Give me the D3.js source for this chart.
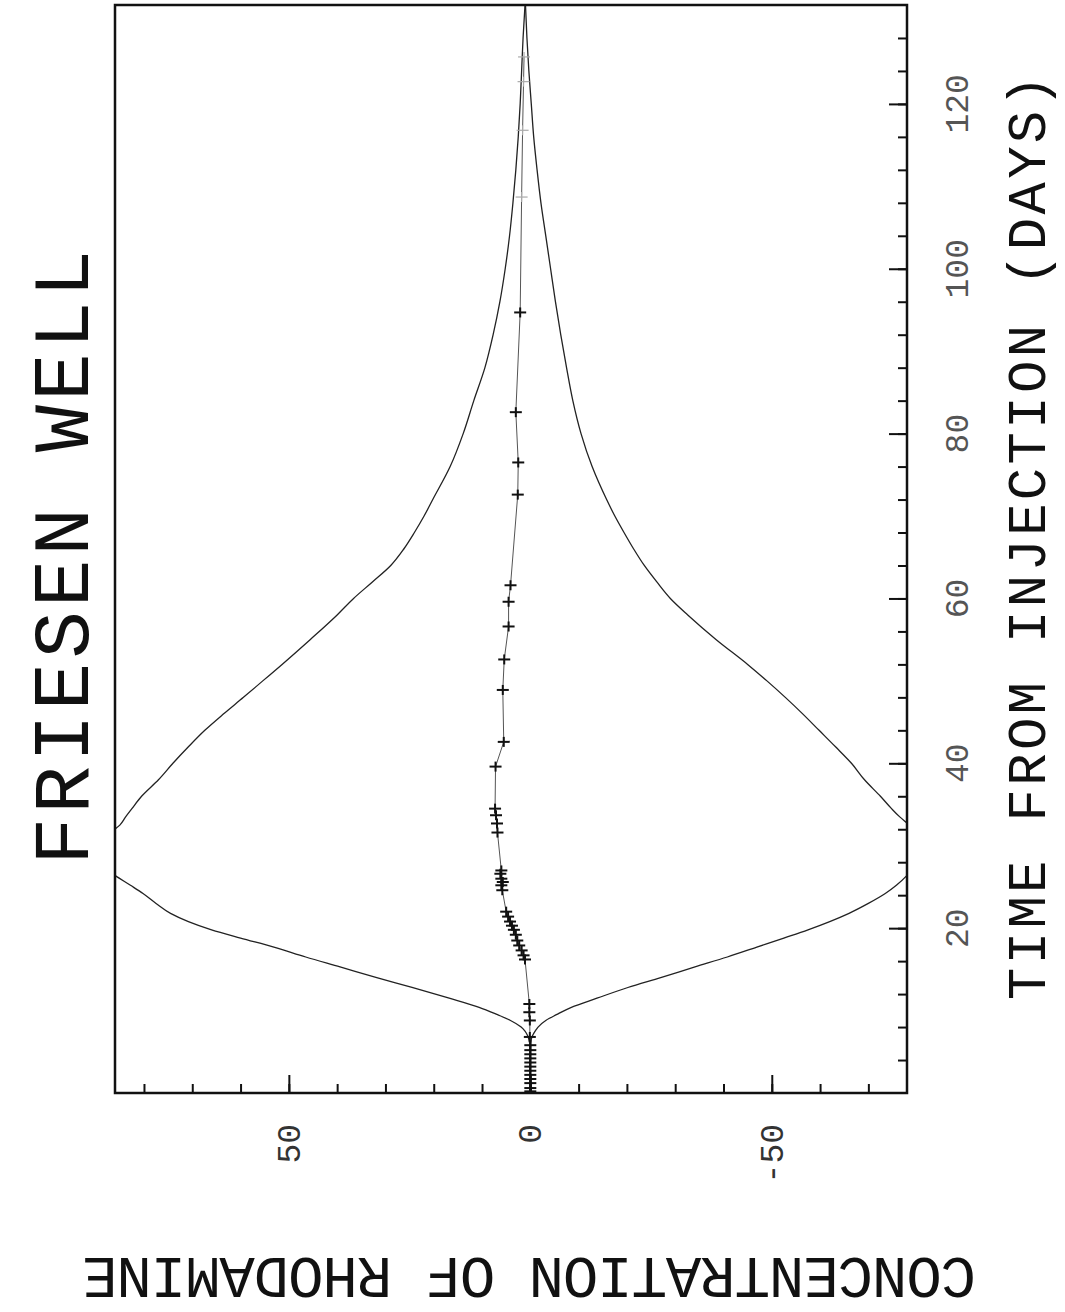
<!DOCTYPE html>
<html>
<head>
<meta charset="utf-8">
<script src="https://cdn.jsdelivr.net/npm/d3@7"></script>
<style>
  html, body { margin: 0; padding: 0; background: #fff; }
  svg { display: block; }
  text { font-family: "Liberation Mono", "DejaVu Sans Mono", monospace; fill: #111; }
</style>
</head>
<body>
<svg id="chart" width="1065" height="1312"></svg>
<script>
// ---- Time grid (days) for the model envelope curves ----
const envT = [0, 2, 4, 5.5, 6.5, 7, 7.5, 8, 8.8, 9.5, 10.4, 11.5, 12.8, 14, 15.3, 16.5,
  17.7, 18.8, 19.8, 20.8, 21.8, 23, 24.2, 25.2, 26.4, 27.5, 28.5, 29.5, 30.5, 31.5,
  32.5, 33.5, 34.5, 36, 38, 40, 42, 44, 46, 48, 50, 52, 55, 58, 60, 62, 64, 66, 68,
  70, 72, 76, 80, 84, 88, 92, 96, 100, 104, 108, 112, 116, 120, 124, 128, 132];

// Upper envelope (positive concentration)
const envUpper = [0, 0, 0, 0.05, 0.3, 0.6, 1.1, 1.9, 4.1, 6.8, 10.6, 16.8, 24.5, 31.8,
  39.4, 46.5, 53.1, 60, 66, 70.8, 74.5, 77.5, 80.2, 82.8, 86, 88.5, 90, 90.5, 89.5,
  87.2, 85, 83.8, 82.5, 80.5, 77, 74, 70.8, 67.4, 63.5, 59.4, 55.4, 51.4, 45.6, 40,
  36.6, 32.7, 28.9, 26.2, 24, 22, 20.2, 16.6, 13.9, 11.7, 9.4, 7.7, 6.3, 5.2, 4.3,
  3.6, 3.0, 2.5, 2.1, 1.8, 1.5, 1.1];

// Lower envelope (negative concentration)
const envLower = [0, 0, 0, -0.05, -0.2, -0.5, -1.0, -1.6, -3.2, -5.4, -8.5, -13.8,
  -20.2, -27, -34.1, -40.8, -46.9, -52.5, -57.5, -62, -66, -70, -73.5, -75.8, -78,
  -79.5, -80.5, -81, -81, -80, -78.5, -76.5, -74.8, -72.5, -69.2, -66.5, -63.2, -59.8,
  -56.4, -52.8, -49, -45, -38.5, -32.6, -29, -26.2, -23.6, -21.4, -19.4, -17.5, -15.8,
  -12.8, -10.5, -8.8, -7.5, -6.3, -5.2, -4.2, -3.2, -2.2, -1.4, -0.7, -0.2, 0.3, 0.7, 1.0];

// ---- Observed rhodamine samples ----
const obsT = [0.2, 0.6, 1.2, 1.7, 2.2, 2.7, 3.2, 3.7, 4.2, 4.7, 5.2, 5.8, 6.8, 8.8, 9.8,
  10.8, 16.2, 16.7, 17.3, 17.9, 18.5, 19.2, 19.8, 20.3, 20.8, 21.4, 22.0, 24.6, 25.2,
  25.6, 26.0, 26.6, 27.0, 31.6, 32.7, 33.7, 34.5, 39.6, 42.6, 48.9, 52.6, 56.6, 59.6,
  61.6, 72.6, 76.5, 82.6, 94.7];
const obsC = [0, 0, 0, 0, 0, 0, 0, 0, 0, 0, 0, 0, 0.1, 0.1, 0.2,
  0.2, 1.1, 1.4, 1.8, 2.3, 2.7, 3.0, 3.4, 3.8, 4.2, 4.6, 5.0, 5.8, 6.0,
  5.7, 6.0, 6.2, 6.0, 6.8, 6.9, 7.1, 7.3, 7.2, 5.5, 5.7, 5.4, 4.5, 4.5,
  4.1, 2.6, 2.5, 3.0, 2.1];

// Late samples recorded with a light trace
const lateT = [108.7, 116.8, 122.7, 125.7];
const lateC = [1.8, 1.6, 1.4, 1.3];

// ---- Axis definitions ----
const concDomain = [86, -78];
const timeDomain = [0, 132];
const concTicks = [80, 70, 60, 50, 40, 30, 20, 10, 0, -10, -20, -30, -40, -50, -60, -70];
const concMajor = [50, 0, -50];
const concLabels = ["50", "0", "-50"];
const timeTicks = d3.range(4, 132, 4);
const timeMajor = [20, 40, 60, 80, 100, 120];
const timeLabels = ["20", "40", "60", "80", "100", "120"];

const titleText = "FRIESEN WELL";
const timeTitle = "TIME FROM INJECTION (DAYS)";
const concTitle = "CONCENTRATION OF RHODAMINE";

// ---- Layout ----
const box = { left: 115, right: 907, top: 5, bottom: 1093 };
const svg = d3.select("#chart");

const x = d3.scaleLinear().domain(concDomain).range([box.left, box.right]);
const y = d3.scaleLinear().domain(timeDomain).range([box.bottom, box.top]);

svg.append("defs").append("clipPath").attr("id", "plot-clip")
  .append("rect")
  .attr("x", box.left).attr("y", box.top)
  .attr("width", box.right - box.left).attr("height", box.bottom - box.top);

const plot = svg.append("g").attr("clip-path", "url(#plot-clip)");

const envLine = d3.line()
  .x(d => x(d[1]))
  .y(d => y(d[0]))
  .curve(d3.curveMonotoneY);

plot.append("path")
  .datum(envT.map((t, i) => [t, envUpper[i]]))
  .attr("d", envLine)
  .attr("fill", "none").attr("stroke", "#222").attr("stroke-width", 1.3);

plot.append("path")
  .datum(envT.map((t, i) => [t, envLower[i]]))
  .attr("d", envLine)
  .attr("fill", "none").attr("stroke", "#222").attr("stroke-width", 1.3);

// Thin trace joining the samples
const obsAll = obsT.map((t, i) => [t, obsC[i]]).concat(lateT.map((t, i) => [t, lateC[i]]));
plot.append("path")
  .datum(obsAll)
  .attr("d", d3.line().x(d => x(d[1])).y(d => y(d[0])))
  .attr("fill", "none").attr("stroke", "#555").attr("stroke-width", 1);

// "+" sample markers
const plus = (sel, data, color, w) => {
  const g = sel.selectAll(null).data(data).enter().append("g")
    .attr("transform", d => `translate(${x(d[1])},${y(d[0])})`);
  g.append("line").attr("x1", -6).attr("x2", 6).attr("y1", 0).attr("y2", 0)
    .attr("stroke", color).attr("stroke-width", w);
  g.append("line").attr("x1", 0).attr("x2", 0).attr("y1", -5).attr("y2", 5)
    .attr("stroke", color).attr("stroke-width", w);
};
plus(plot, obsT.map((t, i) => [t, obsC[i]]), "#111", 2);
plus(plot, lateT.map((t, i) => [t, lateC[i]]), "#aaa", 1.2);

// ---- Frame ----
svg.append("rect")
  .attr("x", box.left).attr("y", box.top)
  .attr("width", box.right - box.left).attr("height", box.bottom - box.top)
  .attr("fill", "none").attr("stroke", "#111").attr("stroke-width", 2.5);

// ---- Concentration axis (bottom), ticks pointing inward ----
const styleAxis = g => {
  g.select(".domain").remove();
  g.selectAll(".tick line").attr("stroke", "#111").attr("stroke-width", 2);
};
svg.append("g").attr("transform", `translate(0,${box.bottom})`)
  .call(d3.axisTop(x).tickValues(concTicks).tickSize(9).tickFormat(""))
  .call(styleAxis);
svg.append("g").attr("transform", `translate(0,${box.bottom})`)
  .call(d3.axisTop(x).tickValues(concMajor).tickSize(18).tickFormat(""))
  .call(styleAxis);

// ---- Time axis (right), ticks pointing inward ----
svg.append("g").attr("transform", `translate(${box.right},0)`)
  .call(d3.axisLeft(y).tickValues(timeTicks).tickSize(9).tickFormat(""))
  .call(styleAxis);
svg.append("g").attr("transform", `translate(${box.right},0)`)
  .call(d3.axisLeft(y).tickValues(timeMajor).tickSize(18).tickFormat(""))
  .call(styleAxis);

// ---- Tick labels (rotated with the page) ----
svg.append("g").selectAll("text").data(concMajor).enter().append("text")
  .attr("transform", d => `translate(${x(d) + 11},1124) rotate(-90)`)
  .attr("text-anchor", "end")
  .attr("font-size", 33)
  .style("fill", "#333")
  .text((d, i) => concLabels[i]);

svg.append("g").selectAll("text").data(timeMajor).enter().append("text")
  .attr("transform", d => `translate(968,${y(d)}) rotate(-90)`)
  .attr("text-anchor", "middle")
  .attr("font-size", 33)
  .style("fill", "#555")
  .text((d, i) => timeLabels[i]);

// ---- Titles ----
svg.append("text")
  .attr("transform", "translate(88,865) rotate(-90)")
  .attr("text-anchor", "start")
  .attr("font-size", 79)
  .attr("textLength", 615).attr("lengthAdjust", "spacing")
  .text(titleText);

svg.append("text")
  .attr("transform", "translate(1045,1000) rotate(-90)")
  .attr("text-anchor", "start")
  .attr("font-size", 54)
  .attr("textLength", 925).attr("lengthAdjust", "spacing")
  .text(timeTitle);

svg.append("text")
  .attr("transform", "translate(529,1258) rotate(180)")
  .attr("text-anchor", "middle")
  .attr("font-size", 59)
  .attr("textLength", 894).attr("lengthAdjust", "spacing")
  .text(concTitle);
</script>
</body>
</html>
